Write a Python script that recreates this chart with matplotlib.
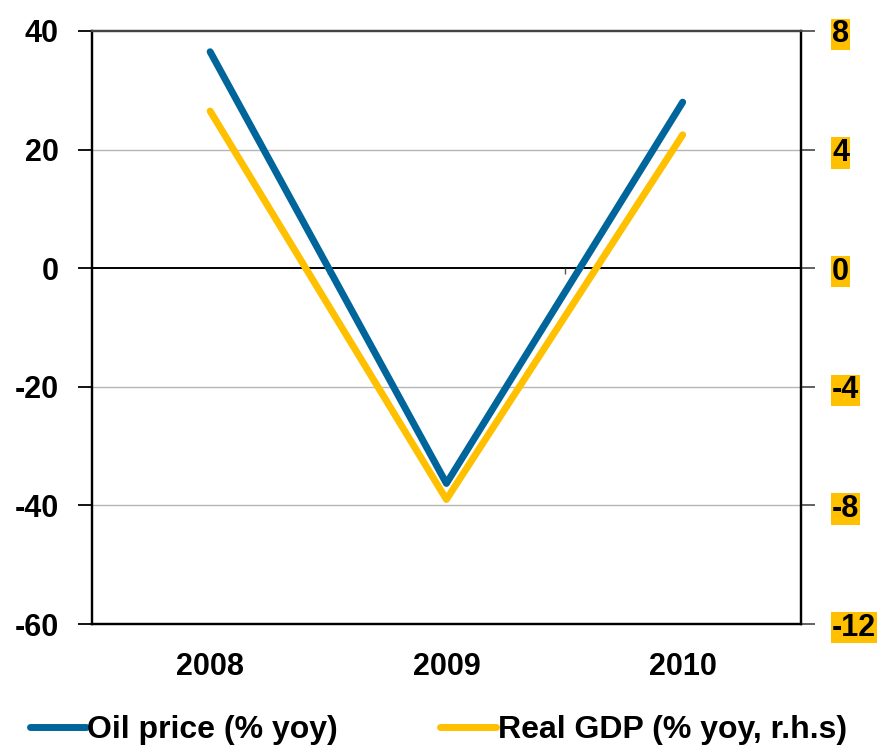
import matplotlib.pyplot as plt
import numpy as np

years = ["2008", "2009", "2010"]
oil_price = [36.5, -36.3, 28.0]
real_gdp = [5.3, -7.8, 4.5]
left_ticks = [-60, -40, -20, 0, 20, 40]
right_ticks = [-12, -8, -4, 0, 4, 8]

BLUE = "#00659a"
YELLOW = "#ffc000"

plt.rcParams["font.family"] = ["Liberation Sans", "DejaVu Sans"]
plt.rcParams["font.weight"] = "bold"

fig = plt.figure(figsize=(8.81, 7.45), dpi=100)
ax = fig.add_axes([0.1044, 0.1624, 0.8046, 0.796])
ax2 = ax.twinx()

x = np.arange(len(years))
ax.plot(x, oil_price, color=BLUE, lw=5, solid_capstyle="round", zorder=3)
ax2.plot(x, real_gdp, color=YELLOW, lw=5, solid_capstyle="round", zorder=3)

ax.set_xlim(-0.5, len(years) - 0.5)
ax.set_ylim(left_ticks[0], left_ticks[-1])
ax2.set_ylim(right_ticks[0], right_ticks[-1])

# horizontal guides: light grid, darker top, black zero line
for v in left_ticks[1:-1]:
    if v != 0:
        ax.axhline(v, color="#b5b5b5", lw=1.0, zorder=1)
ax.axhline(0, color="black", lw=1.4, zorder=2)
# small category separators hanging from the zero line
ax.vlines(x[:-1] + 0.5, -1.0, 0, color="#555555", lw=1.0, zorder=2)

ax.set_xticks(x)
ax.set_xticklabels(years, fontsize=22, fontweight="bold")
ax.tick_params(axis="x", length=0, pad=20)

ax.set_yticks(left_ticks)
ax.set_yticklabels([str(v) for v in left_ticks], fontsize=22, fontweight="bold")
ax.tick_params(axis="y", direction="out", length=10, width=1.3, pad=14)

ax2.set_yticks(right_ticks)
ax2.set_yticklabels([str(v) for v in right_ticks], fontsize=22, fontweight="bold")
ax2.tick_params(axis="y", direction="out", length=10, width=1.3, color="#555555", pad=12.5)
for lab in ax2.get_yticklabels():
    lab.set_bbox(dict(facecolor=YELLOW, edgecolor="none", pad=0.5))

for a in (ax, ax2):
    a.spines["left"].set_linewidth(1.6)
    a.spines["right"].set_linewidth(1.6)
    a.spines["bottom"].set_linewidth(1.6)
    a.spines["top"].set_color("#444444")
    a.spines["top"].set_linewidth(1.6)

handles = [
    plt.Line2D([], [], color=BLUE, lw=5, solid_capstyle="round"),
    plt.Line2D([], [], color=YELLOW, lw=5, solid_capstyle="round"),
]
fig.legend(handles, ["Oil price (% yoy)", "Real GDP (% yoy, r.h.s)"],
           loc="lower left", bbox_to_anchor=(0.012, -0.026), ncol=2, frameon=False,
           prop={"size": 23, "weight": "bold"}, handlelength=1.75, handletextpad=0.05,
           columnspacing=3.2, borderpad=0.1)

fig.savefig("out.png", dpi=100)
